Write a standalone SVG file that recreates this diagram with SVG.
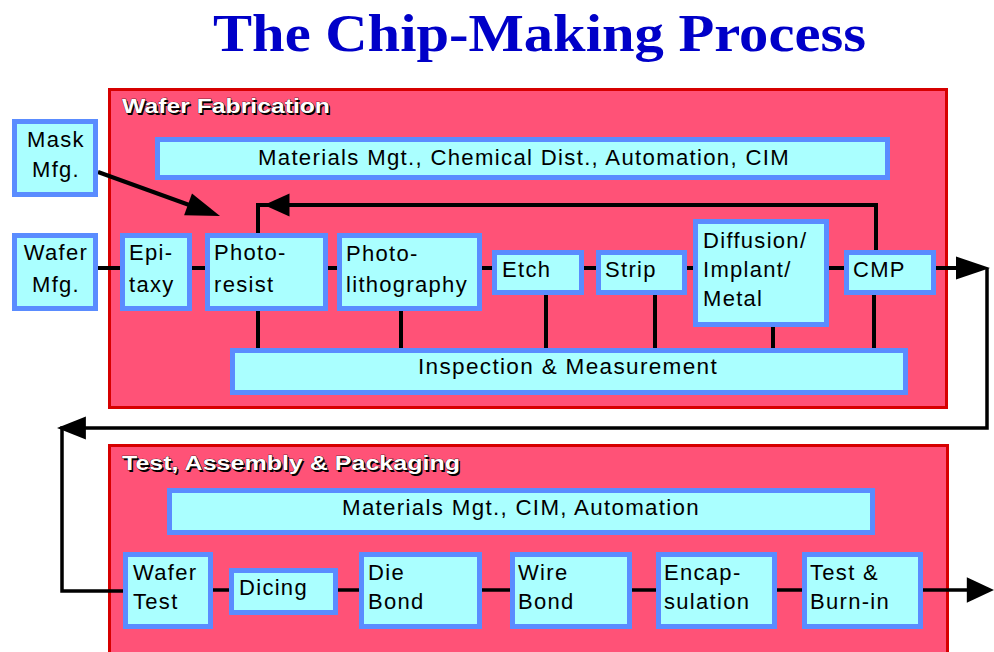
<svg xmlns="http://www.w3.org/2000/svg" width="994" height="652" viewBox="0 0 994 652">
  <style>
    .panel { fill: #ff5277; stroke: #d60000; stroke-width: 3; }
    .box { fill: #aaffff; stroke: #5a8cff; stroke-width: 5; }
    .t { font-family: "Liberation Sans", Arial, sans-serif; font-size: 22px; letter-spacing: 1.3px; fill: #000; }
    .c { text-anchor: middle; }
    .lbl { font-family: "Liberation Sans", Arial, sans-serif; font-size: 20px; font-weight: bold; fill: #fff; stroke: #000; stroke-width: 0.6px; paint-order: stroke; }
    .lblsh { font-family: "Liberation Sans", Arial, sans-serif; font-size: 20px; font-weight: bold; fill: #000; }
    .line { fill: none; stroke: #000; stroke-width: 4; stroke-linejoin: miter; }
    .thin { fill: none; stroke: #000; stroke-width: 3.5; }
    .head { fill: #000; }
  </style>
  <defs>
    <!-- arrowhead pointing along +x with its tip at the origin -->
    <path id="head" d="M0,0 L-34,-11.5 L-34,11.5 Z"/>
  </defs>

  <rect width="994" height="652" fill="#fff"/>

  <!-- title -->
  <text x="213" y="51" textLength="653" lengthAdjust="spacingAndGlyphs" font-family="'Liberation Serif', 'Times New Roman', serif" font-size="53" font-weight="bold" fill="#0000c8">The Chip-Making Process</text>

  <!-- panels -->
  <g id="panel-wafer-fab">
    <rect class="panel" x="109.5" y="89.5" width="837" height="318"/>
    <text class="lblsh" x="123.5" y="114.5" textLength="208" lengthAdjust="spacingAndGlyphs">Wafer Fabrication</text>
    <text class="lbl" x="122" y="113" textLength="208" lengthAdjust="spacingAndGlyphs">Wafer Fabrication</text>
  </g>
  <g id="panel-test-assembly">
    <rect class="panel" x="109.5" y="445.5" width="838" height="215"/>
    <text class="lblsh" x="123.5" y="471.5" textLength="338" lengthAdjust="spacingAndGlyphs">Test, Assembly &amp; Packaging</text>
    <text class="lbl" x="122" y="470" textLength="338" lengthAdjust="spacingAndGlyphs">Test, Assembly &amp; Packaging</text>
  </g>

  <!-- connectors -->
  <g id="connectors">
    <!-- mask input -->
    <path class="line" stroke-width="5" d="M98,172 L192,206"/>
    <use href="#head" class="head" transform="translate(220,216) rotate(20)"/>
    <!-- main fab chain -->
    <path class="line" d="M98,268 H844"/>
    <path class="line" d="M936,268 H958"/>
    <use href="#head" class="head" transform="translate(990,268)"/>
    <!-- CMP loop back to photoresist -->
    <path class="line" d="M876,250 V205 H258 V233"/>
    <use href="#head" class="head" transform="translate(264,205) rotate(180) scale(0.75,1)"/>
    <!-- inspection taps -->
    <path class="line" d="M258,311 V348 M401,311 V348 M546,295 V348 M655,295 V348 M773,327 V348 M874,295 V348"/>
    <!-- hand-off from fab to assembly -->
    <path class="thin" d="M987,268 V428 H62 V591 H123"/>
    <use href="#head" class="head" transform="translate(57,428) rotate(180) scale(0.85,1)"/>
    <!-- assembly chain -->
    <path class="thin" d="M213,590 H229 M338,590 H359 M482,590 H510 M632,590 H656 M777,590 H802 M923,590 H968"/>
    <use href="#head" class="head" transform="translate(994,590) scale(0.8,1.1)"/>
  </g>

  <!-- nodes -->
  <g id="mask-mfg">
    <rect class="box" x="14.5" y="121.5" width="81" height="73"/>
    <text class="t c" x="56" y="147">Mask</text>
    <text class="t c" x="56" y="177">Mfg.</text>
  </g>
  <g id="wafer-mfg">
    <rect class="box" x="14.5" y="235.5" width="81" height="73"/>
    <text class="t c" x="56" y="260">Wafer</text>
    <text class="t c" x="56" y="292">Mfg.</text>
  </g>
  <g id="materials-fab">
    <rect class="box" x="157.5" y="139.5" width="730" height="38"/>
    <text class="t c" x="524" y="165" textLength="532" lengthAdjust="spacingAndGlyphs">Materials Mgt., Chemical Dist., Automation, CIM</text>
  </g>
  <g id="epitaxy">
    <rect class="box" x="122.5" y="235.5" width="67" height="73"/>
    <text class="t" x="129" y="260">Epi-</text>
    <text class="t" x="129" y="292">taxy</text>
  </g>
  <g id="photoresist">
    <rect class="box" x="207.5" y="235.5" width="118" height="73"/>
    <text class="t" x="214" y="260">Photo-</text>
    <text class="t" x="214" y="292">resist</text>
  </g>
  <g id="photolithography">
    <rect class="box" x="339.5" y="235.5" width="140" height="73"/>
    <text class="t" x="346" y="261">Photo-</text>
    <text class="t" x="346" y="292">lithography</text>
  </g>
  <g id="etch">
    <rect class="box" x="494.5" y="252.5" width="87" height="40"/>
    <text class="t" x="502" y="277">Etch</text>
  </g>
  <g id="strip">
    <rect class="box" x="598.5" y="252.5" width="86" height="40"/>
    <text class="t" x="605" y="277">Strip</text>
  </g>
  <g id="diffusion">
    <rect class="box" x="695.5" y="221.5" width="131" height="103"/>
    <text class="t" x="703" y="248">Diffusion/</text>
    <text class="t" x="703" y="277">Implant/</text>
    <text class="t" x="703" y="306">Metal</text>
  </g>
  <g id="cmp">
    <rect class="box" x="846.5" y="252.5" width="87" height="40"/>
    <text class="t" x="853" y="277">CMP</text>
  </g>
  <g id="inspection">
    <rect class="box" x="232.5" y="350.5" width="673" height="42"/>
    <text class="t c" x="568" y="374" textLength="300" lengthAdjust="spacingAndGlyphs">Inspection &amp; Measurement</text>
  </g>

  <g id="materials-assembly">
    <rect class="box" x="169.5" y="490.5" width="703" height="42"/>
    <text class="t c" x="521" y="515" textLength="358" lengthAdjust="spacingAndGlyphs">Materials Mgt., CIM, Automation</text>
  </g>
  <g id="wafer-test">
    <rect class="box" x="125.5" y="554.5" width="85" height="72"/>
    <text class="t" x="133" y="580">Wafer</text>
    <text class="t" x="133" y="609">Test</text>
  </g>
  <g id="dicing">
    <rect class="box" x="231.5" y="570.5" width="104" height="42"/>
    <text class="t" x="239" y="595">Dicing</text>
  </g>
  <g id="die-bond">
    <rect class="box" x="361.5" y="554.5" width="118" height="72"/>
    <text class="t" x="368" y="580">Die</text>
    <text class="t" x="368" y="609">Bond</text>
  </g>
  <g id="wire-bond">
    <rect class="box" x="512.5" y="554.5" width="117" height="72"/>
    <text class="t" x="518" y="580">Wire</text>
    <text class="t" x="518" y="609">Bond</text>
  </g>
  <g id="encapsulation">
    <rect class="box" x="658.5" y="554.5" width="116" height="72"/>
    <text class="t" x="664" y="580">Encap-</text>
    <text class="t" x="664" y="609">sulation</text>
  </g>
  <g id="test-burn-in">
    <rect class="box" x="804.5" y="554.5" width="116" height="72"/>
    <text class="t" x="810" y="580">Test &amp;</text>
    <text class="t" x="810" y="609">Burn-in</text>
  </g>
</svg>
